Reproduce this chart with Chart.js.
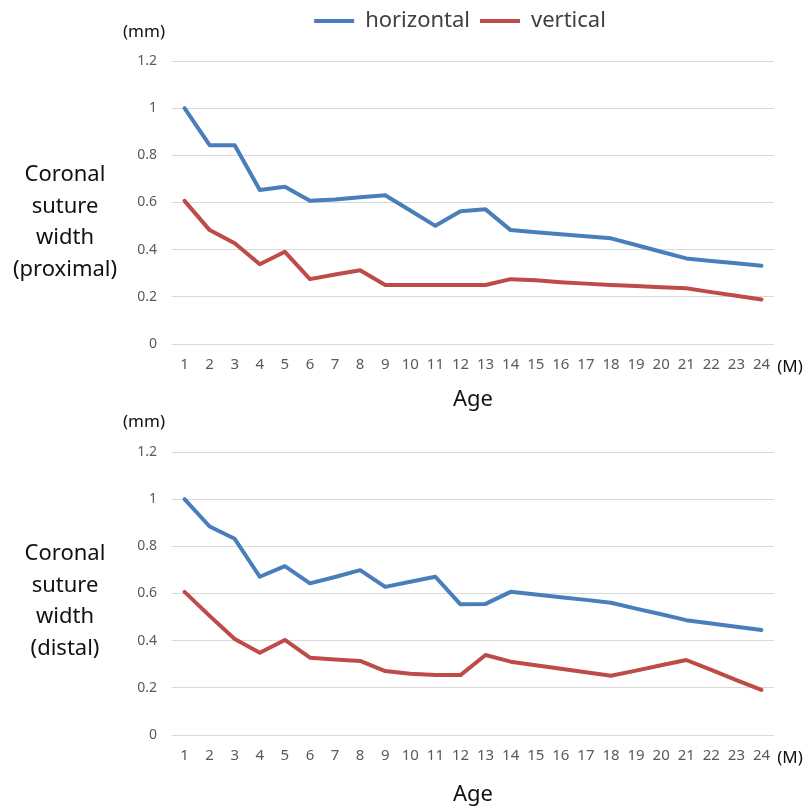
<!DOCTYPE html>
<html>
  <head>
    <meta charset="UTF-8" />
    <title>Coronal suture width</title>
    <script src="https://cdn.jsdelivr.net/npm/chart.js@4/dist/chart.umd.min.js"></script>
    <style>
      body { margin: 0; background: #fff; font-family: "Noto Sans", sans-serif; }
      #page { position: relative; width: 806px; height: 807px; overflow: hidden; }
      canvas { position: absolute; left: 0; }
      #topChart { top: 0; }
      #bottomChart { top: 412px; }
      .lbl { position: absolute; transform: translate(-50%, -50%); white-space: nowrap; color: #111; }
      .side { font-size: 22px; line-height: 31.5px; text-align: center; }
      .unit { font-size: 17px; }
    </style>
  </head>
  <body>
    <div id="page">
      <canvas id="topChart" width="806" height="412"></canvas>
      <canvas id="bottomChart" width="806" height="395"></canvas>

      <div class="lbl unit" style="left:144px;top:30px">(mm)</div>
      <div class="lbl unit" style="left:790px;top:365px">(M)</div>
      <div class="lbl side" style="left:65px;top:220px">Coronal<br>suture<br>width<br>(proximal)</div>

      <div class="lbl unit" style="left:144px;top:420px">(mm)</div>
      <div class="lbl unit" style="left:790px;top:756px">(M)</div>
      <div class="lbl side" style="left:65px;top:599px">Coronal<br>suture<br>width<br>(distal)</div>
    </div>

    <script>
      // age in months
      const ages = ['1','2','3','4','5','6','7','8','9','10','11','12',
                    '13','14','15','16','17','18','19','20','21','22','23','24'];

      // proximal part (top chart), mm
      const proxHorizontal = [1.0, 0.843, 0.843, 0.653, 0.667, 0.607, 0.613, 0.622, 0.631, 0.566, 0.501, 0.563,
                              0.571, 0.483, 0.474, 0.465, 0.457, 0.448, 0.42, 0.391, 0.363, 0.352, 0.342, 0.332];
      const proxVertical = [0.607, 0.483, 0.427, 0.338, 0.391, 0.275, 0.295, 0.313, 0.25, 0.25, 0.25, 0.25,
                            0.25, 0.275, 0.27, 0.262, 0.256, 0.25, 0.246, 0.241, 0.236, 0.22, 0.205, 0.189];

      // distal part (bottom chart), mm
      const distHorizontal = [1.0, 0.884, 0.832, 0.671, 0.716, 0.643, 0.67, 0.699, 0.628, 0.65, 0.671, 0.554,
                              0.556, 0.607, 0.596, 0.584, 0.573, 0.561, 0.536, 0.512, 0.487, 0.473, 0.459, 0.445];
      const distVertical = [0.607, 0.505, 0.407, 0.349, 0.403, 0.328, 0.32, 0.314, 0.271, 0.26, 0.254, 0.254,
                            0.339, 0.311, 0.296, 0.281, 0.266, 0.251, 0.273, 0.296, 0.318, 0.276, 0.233, 0.191];

      const seriesNames = ['horizontal', 'vertical'];
      const yTicks = [0, 0.2, 0.4, 0.6, 0.8, 1, 1.2];

      const BLUE = '#4a7ebb';
      const RED = '#be4b48';
      const FONT = '"Noto Sans", sans-serif';

      function lineSet(label, data, color) {
        return {
          label: label,
          data: data,
          borderColor: color,
          backgroundColor: color,
          borderWidth: 4,
          borderJoinStyle: 'round',
          borderCapStyle: 'round',
          pointRadius: 0,
          tension: 0
        };
      }

      // legend swatches as thin filled bars, no outline
      function legendItems(chart) {
        return Chart.defaults.plugins.legend.labels.generateLabels(chart)
          .map(item => Object.assign(item, { lineWidth: 0 }));
      }

      function makeChart(canvas, h, v, showLegend, axisHeight, topSpace) {
        return new Chart(canvas, {
          type: 'line',
          data: {
            labels: ages,
            datasets: [lineSet(seriesNames[0], h, BLUE), lineSet(seriesNames[1], v, RED)]
          },
          options: {
            responsive: false,
            animation: false,
            layout: { padding: { left: 114, right: 0, top: 0, bottom: 0 } },
            plugins: {
              legend: {
                display: showLegend,
                weight: 3000,
                labels: {
                  boxWidth: 40,
                  boxHeight: 4,
                  padding: 10,
                  color: '#404040',
                  font: { family: FONT, size: 22 },
                  generateLabels: legendItems
                }
              },
              // empty title only used as a spacer between legend and plot
              title: { display: true, text: [], padding: { top: 0, bottom: topSpace } },
              tooltip: { enabled: false }
            },
            scales: {
              x: {
                offset: true,
                grid: { display: false, drawTicks: false },
                border: { display: false },
                ticks: {
                  color: '#595959',
                  padding: 12,
                  maxRotation: 0,
                  autoSkip: false,
                  font: { family: FONT, size: 15 }
                },
                title: {
                  display: true,
                  text: 'Age',
                  color: '#111',
                  padding: { top: 0, bottom: 1 },
                  font: { family: FONT, size: 22, lineHeight: 1 }
                },
                afterFit(scale) { scale.height = axisHeight; }
              },
              y: {
                min: 0,
                max: 1.2,
                afterBuildTicks(scale) { scale.ticks = yTicks.map(v => ({ value: v })); },
                grid: { color: '#d9d9d9', lineWidth: 1, drawTicks: false },
                border: { display: false },
                ticks: {
                  color: '#595959',
                  padding: 15,
                  font: { family: FONT, size: 14 },
                  callback: v => String(v)
                },
                afterFit(scale) { scale.width = 58; }
              },
              // empty right-hand axis that leaves room for the "(M)" label
              yRight: {
                position: 'right',
                grid: { display: false, drawTicks: false },
                border: { display: false },
                ticks: { display: false },
                afterFit(scale) { scale.width = 32; }
              }
            }
          }
        });
      }

      makeChart(topChart, proxHorizontal, proxVertical, true, 68, 19);
      makeChart(bottomChart, distHorizontal, distVertical, false, 72, 40);
    </script>
  </body>
</html>
